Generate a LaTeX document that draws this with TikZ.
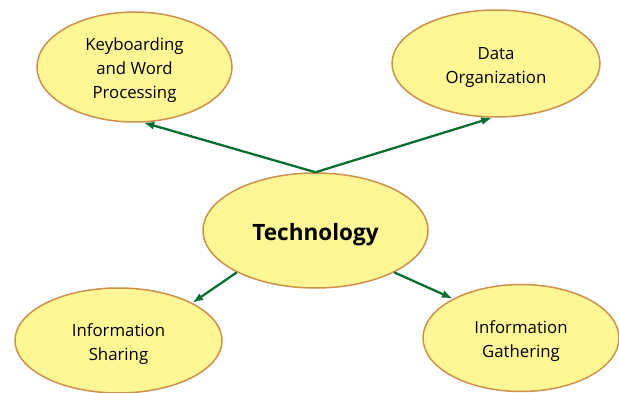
\documentclass[tikz,border=0pt]{standalone}
\usepackage{fontspec}
\setmainfont{Open Sans}
\usetikzlibrary{shapes.geometric,arrows.meta}
\definecolor{bubblefill}{RGB}{255,246,150}
\definecolor{bubbleline}{RGB}{205,145,75}
\definecolor{linkgreen}{RGB}{10,110,50}
\newcommand\topgap{\rule{0pt}{1.15em}}
\tikzset{
  concept/.style={ellipse, draw=bubbleline, line width=1.5pt, fill=bubblefill,
    inner sep=0pt, align=center, font=\fontsize{16.8}{24}\selectfont},
  link/.style={draw=linkgreen, line width=2.3pt, -{Latex[length=11pt,width=8pt]}}
}
\begin{document}
\begin{tikzpicture}[x=1pt, y=-1pt]
        \useasboundingbox (0,0) rectangle (619,393);
        \node[concept, minimum width=195pt, minimum height=110pt] (kbd) at (134.5, 67) {\topgap Keyboarding\\and Word\\Processing};
        \node[concept, minimum width=208pt, minimum height=107pt] (data) at (496, 63.5) {\topgap Data\\Organization};
        \node[concept, minimum width=225pt, minimum height=115pt, font=\fontsize{22.5}{26}\selectfont\bfseries] (tech) at (315.5, 230.5) {\topgap Technology};
        \node[concept, minimum width=207pt, minimum height=105pt] (share) at (118.5, 340.5) {\topgap Information\\Sharing};
        \node[concept, minimum width=196pt, minimum height=107pt] (gather) at (521, 338) {\topgap Information\\Gathering};
        \draw[link] (tech.north) -- (kbd.-81);
        \draw[link] (tech.north) -- (data.-94);
        \draw[link] (tech.-152) -- (share.27);
        \draw[link] (tech.-28) -- (gather.150);
        \end{tikzpicture}
\end{document}
